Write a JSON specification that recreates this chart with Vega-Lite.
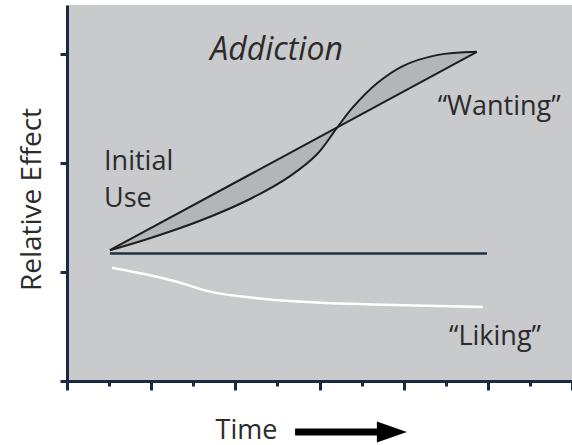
{
  "$schema": "https://vega.github.io/schema/vega-lite/v6.json",
  "width": 505,
  "height": 376,
  "autosize": {"type": "none"},
  "padding": {"left": 67, "top": 5, "right": 0, "bottom": 64},
  "background": "white",
  "config": {
    "view": {"fill": "#c9cacc", "stroke": null},
    "font": "Open Sans"
  },
  "encoding": {
    "x": {
      "field": "t", "type": "quantitative",
      "scale": {"domain": [0, 12], "nice": false, "zero": false},
      "axis": {
        "values": [0,1,2,3,4,5,6,7,8,9,10,11,12],
        "labels": false, "grid": false,
        "domainColor": "#1b2a44", "domainWidth": 3,
        "tickColor": "#1b2a44", "tickWidth": 3,
        "tickSize": {"condition": {"test": "datum.value % 2 === 0", "value": 9}, "value": 5},
        "title": "Time", "titleFont": "Open Sans", "titleFontSize": 27, "titleFontWeight": "normal",
        "titleColor": "#2b2b2b", "titleX": 179, "titleY": 57, "titleAlign": "center", "titleBaseline": "alphabetic"
      }
    },
    "y": {
      "field": "v", "type": "quantitative",
      "scale": {"domain": [0, 3.45], "nice": false, "zero": false},
      "axis": {
        "values": [0,1,2,3],
        "labels": false, "grid": false,
        "domainColor": "#1b2a44", "domainWidth": 3,
        "tickColor": "#1b2a44", "tickWidth": 3, "tickSize": 7,
        "title": "Relative Effect", "titleFont": "Open Sans", "titleFontSize": 28, "titleFontWeight": "normal",
        "titleColor": "#2b2b2b", "titlePadding": 12, "titleY": 194
      }
    }
  },
  "layer": [
    {
      "data": {"values": [
        {"t": 1.02, "v": 1.20, "v2": 1.20},
        {"t": 1.97, "v": 1.398, "v2": 1.31},
        {"t": 3.16, "v": 1.647, "v2": 1.47},
        {"t": 4.35, "v": 1.895, "v2": 1.67},
        {"t": 5.30, "v": 2.093, "v2": 1.88},
        {"t": 5.94, "v": 2.227, "v2": 2.08},
        {"t": 6.41, "v": 2.325, "v2": 2.32},
        {"t": 6.79, "v": 2.404, "v2": 2.51},
        {"t": 7.36, "v": 2.523, "v2": 2.73},
        {"t": 7.98, "v": 2.653, "v2": 2.89},
        {"t": 8.79, "v": 2.822, "v2": 2.99},
        {"t": 9.74, "v": 3.02, "v2": 3.02}
      ]},
      "mark": {"type": "area", "interpolate": "catmull-rom", "color": "#b4b5b7"},
      "encoding": {"y2": {"field": "v2"}}
    },
    {
      "data": {"values": [
        {"t": 1.02, "v": 1.20},
        {"t": 1.97, "v": 1.31},
        {"t": 3.16, "v": 1.47},
        {"t": 4.35, "v": 1.67},
        {"t": 5.30, "v": 1.88},
        {"t": 5.94, "v": 2.08},
        {"t": 6.41, "v": 2.32},
        {"t": 6.79, "v": 2.51},
        {"t": 7.36, "v": 2.73},
        {"t": 7.98, "v": 2.89},
        {"t": 8.79, "v": 2.99},
        {"t": 9.74, "v": 3.02}
      ]},
      "mark": {"type": "line", "interpolate": "catmull-rom", "color": "#1e1e1e", "strokeWidth": 2}
    },
    {
      "data": {"values": [{"t": 1.02, "v": 1.20}, {"t": 9.74, "v": 3.02}]},
      "mark": {"type": "line", "color": "#1e1e1e", "strokeWidth": 2}
    },
    {
      "data": {"values": [{"t": 1.02, "t2": 9.98, "v": 1.17}]},
      "mark": {"type": "rule", "color": "#1f3244", "strokeWidth": 2.5},
      "encoding": {"x2": {"field": "t2"}}
    },
    {
      "data": {"values": [
        {"t": 1.07, "v": 1.04},
        {"t": 2.21, "v": 0.95},
        {"t": 2.61, "v": 0.91},
        {"t": 3.40, "v": 0.82},
        {"t": 4.51, "v": 0.76},
        {"t": 5.94, "v": 0.72},
        {"t": 7.51, "v": 0.70},
        {"t": 9.88, "v": 0.68}
      ]},
      "mark": {"type": "line", "interpolate": "monotone", "color": "#ffffff", "strokeWidth": 2.5}
    },
    {
      "data": {"values": [{"t": 4.98, "v": 2.945, "label": "Addiction"}]},
      "mark": {"type": "text", "font": "Open Sans", "fontSize": 32, "fontStyle": "italic", "color": "#2b2b2b", "align": "center", "baseline": "alphabetic"},
      "encoding": {"text": {"field": "label"}}
    },
    {
      "data": {"values": [
        {"t": 0.88, "v": 1.936, "label": "Initial"},
        {"t": 0.88, "v": 1.596, "label": "Use"}
      ]},
      "mark": {"type": "text", "font": "Open Sans", "fontSize": 27, "color": "#2b2b2b", "align": "left", "baseline": "alphabetic"},
      "encoding": {"text": {"field": "label"}}
    },
    {
      "data": {"values": [
        {"t": 10.27, "v": 2.44, "label": "“Wanting”"},
        {"t": 10.17, "v": 0.33, "label": "“Liking”"}
      ]},
      "mark": {"type": "text", "font": "Open Sans", "fontSize": 27, "color": "#2b2b2b", "align": "center", "baseline": "alphabetic"},
      "encoding": {"text": {"field": "label"}}
    },
    {
      "data": {"values": [{"t": 5.42, "t2": 7.5, "v": -0.468}]},
      "mark": {"type": "rule", "color": "#000000", "strokeWidth": 7},
      "encoding": {"x2": {"field": "t2"}}
    },
    {
      "data": {"values": [{"t": 7.72, "v": -0.468}]},
      "mark": {"type": "point", "shape": "M -1 -0.7 L 1 0 L -1 0.7 Z", "filled": true, "color": "#000000", "size": 900, "opacity": 1}
    }
  ]
}
